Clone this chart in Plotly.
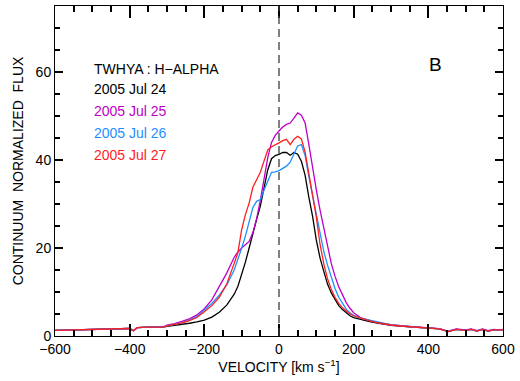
import plotly.graph_objects as go

velocity = [-600, -550, -500, -450, -400, -390, -380, -350, -310, -300, -280, -260, -240, -220,
            -200, -180, -160, -140, -120, -110, -100, -90, -80, -70, -60, -50, -40, -30, -20, -10,
            0, 10, 20, 30, 40, 50, 60, 70, 80, 90, 100, 110, 120, 130, 140, 150, 160, 170, 180, 190,
            200, 220, 240, 260, 280, 300, 350, 400, 430, 453, 475, 500, 515, 530, 545, 560, 575, 590, 600]

jul24 = [1.3, 1.4, 1.5, 1.6, 1.7, 1.2, 1.9, 2.0, 2.0, 2.2, 2.4, 2.6, 2.9, 3.2,
         3.6, 4.3, 5.4, 7.0, 9.5, 11.3, 13.8, 16.8, 20.0, 23.5, 26.5, 29.5, 33.7, 37.8, 40.3, 41.0,
         41.3, 41.7, 41.7, 41.1, 41.7, 41.3, 39.7, 36.5, 31.5, 27.2, 21.8, 17.7, 14.7, 11.8, 9.8, 8.2, 6.9, 6.0, 5.2, 4.6,
         4.2, 3.7, 3.3, 3.0, 2.7, 2.4, 2.1, 1.8, 1.6, 1.0, 1.5, 1.3, 1.5, 1.1, 1.5, 1.1, 1.4, 1.4, 1.4]

jul25 = [1.3, 1.4, 1.5, 1.6, 1.7, 1.2, 1.9, 2.0, 2.1, 2.5, 2.8, 3.3, 3.9, 4.8,
         6.2, 8.2, 11.1, 14.3, 17.9, 19.1, 20.0, 20.7, 21.5, 23.5, 26.6, 30.8, 36.0, 40.6, 44.0, 45.6,
         46.6, 47.5, 48.1, 48.4, 49.5, 50.7, 50.2, 48.4, 43.5, 38.0, 33.2, 28.6, 24.6, 19.8, 16.5, 13.6, 11.2, 9.4, 7.6, 6.3,
         5.3, 4.1, 3.6, 3.1, 2.8, 2.5, 2.2, 1.9, 1.7, 1.1, 1.6, 1.4, 1.6, 1.2, 1.6, 1.2, 1.5, 1.4, 1.5]

jul26 = [1.3, 1.4, 1.5, 1.6, 1.7, 1.2, 1.9, 2.0, 2.0, 2.3, 2.6, 3.0, 3.6, 4.4,
         5.9, 7.4, 9.3, 11.6, 15.0, 17.3, 20.0, 22.7, 26.0, 29.2, 30.6, 31.0, 33.2, 35.4, 37.2, 37.3,
         37.6, 38.1, 38.6, 39.5, 41.2, 43.2, 43.5, 41.0, 36.2, 32.0, 28.2, 23.3, 19.2, 16.1, 13.2, 10.8, 8.8, 7.3, 6.1, 5.3,
         4.7, 4.0, 3.6, 3.2, 2.9, 2.6, 2.1, 1.8, 1.6, 1.0, 1.5, 1.3, 1.5, 1.1, 1.5, 1.1, 1.4, 1.4, 1.4]

jul27 = [1.3, 1.4, 1.5, 1.6, 1.7, 1.2, 1.9, 2.0, 2.0, 2.3, 2.6, 3.0, 3.5, 4.2,
         5.5, 6.9, 8.8, 11.8, 16.5, 19.0, 24.2, 27.6, 30.2, 33.8, 35.5, 37.2, 39.8, 42.3, 43.0, 43.4,
         43.9, 44.4, 44.7, 43.5, 44.7, 45.4, 44.8, 41.8, 36.8, 31.8, 27.0, 20.8, 16.4, 13.0, 10.6, 8.8, 7.4, 6.4, 5.6, 5.0,
         4.6, 4.0, 3.5, 3.1, 2.8, 2.5, 2.1, 1.8, 1.6, 1.0, 1.5, 1.3, 1.5, 1.1, 1.5, 1.1, 1.4, 1.4, 1.4]

series = [
    ("2005 Jul 24", jul24, "black"),
    ("2005 Jul 25", jul25, "rgb(190,0,200)"),
    ("2005 Jul 26", jul26, "rgb(30,144,255)"),
    ("2005 Jul 27", jul27, "rgb(255,30,30)"),
]

FONT = "Liberation Sans"

fig = go.Figure()
for name, vals, col in series:
    fig.add_trace(go.Scatter(x=velocity, y=vals, mode="lines", name=name,
                             line=dict(color=col, width=1.3), showlegend=False))

fig.add_shape(type="line", xref="x", yref="y", x0=0, x1=0, y0=0, y1=75,
              line=dict(color="rgb(60,60,60)", width=1.3, dash="8px,5px"))

labels = [("TWHYA : H\u2212ALPHA", "black", 60.6)] + [
    (name, col, yv) for (name, _, col), yv in zip(series, [56.1, 51.1, 46.1, 41.1])]
for txt, col, yv in labels:
    fig.add_annotation(x=-500, y=yv, xref="x", yref="y", text=txt, showarrow=False,
                       xanchor="left", yanchor="middle", font=dict(size=14, color=col, family=FONT))
fig.add_annotation(x=419, y=61.7, xref="x", yref="y", text="B", showarrow=False,
                   xanchor="center", yanchor="middle", font=dict(size=19, color="black", family=FONT))

fig.update_layout(
    width=520, height=381, margin=dict(l=55, r=15, t=5, b=45),
    paper_bgcolor="white", plot_bgcolor="white",
    xaxis=dict(
        range=[-600, 600], dtick=200,
        showgrid=False, showline=True, linecolor="black",
        mirror="allticks", ticks="inside", ticklen=12, tickwidth=2, tickcolor="#000000",
        minor=dict(ticks="inside", ticklen=6, tickcolor="#000000", tickwidth=2, dtick=50),
        tickfont=dict(size=14, color="black", family=FONT),
        title=dict(text="VELOCITY [km s<sup>\u22121</sup>]", standoff=0,
                   font=dict(size=14, color="black", family=FONT)),
    ),
    yaxis=dict(
        range=[0, 75], dtick=20,
        showgrid=False, showline=True, linecolor="black",
        mirror="allticks", ticks="inside", ticklen=8, tickwidth=2, tickcolor="#000000",
        minor=dict(ticks="inside", ticklen=5, tickcolor="#000000", tickwidth=2, dtick=5),
        tickfont=dict(size=14, color="black", family=FONT),
        title=dict(text="CONTINUUM  NORMALIZED  FLUX", standoff=8,
                   font=dict(size=14, color="black", family=FONT)),
    ),
)

fig.write_html("out.html")
